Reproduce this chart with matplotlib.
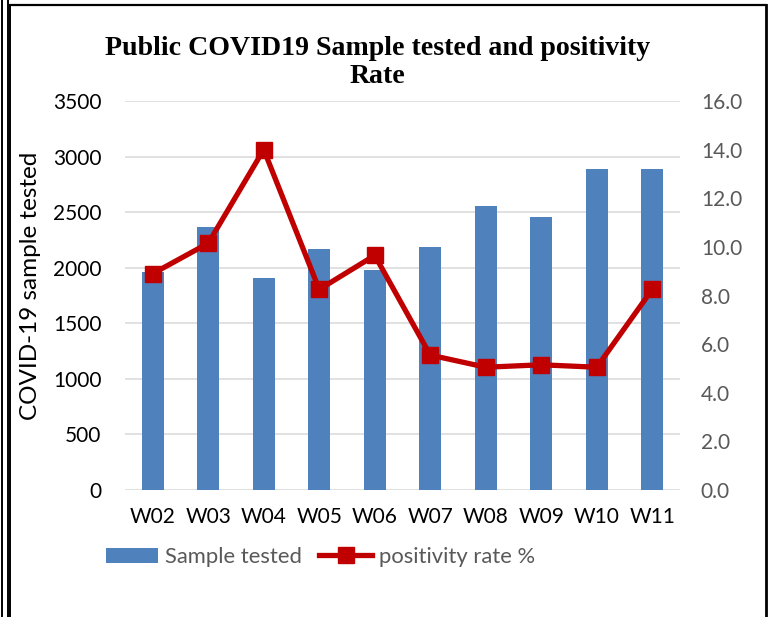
import numpy as np
import matplotlib
matplotlib.use("Agg")
import matplotlib.pyplot as plt
from matplotlib.lines import Line2D

weeks = ["W02", "W03", "W04", "W05", "W06", "W07", "W08", "W09", "W10", "W11"]
samples = [1960, 2365, 1905, 2165, 1980, 2185, 2555, 2455, 2885, 2890]
positivity = [8.9, 10.15, 14.0, 8.25, 9.65, 5.55, 5.05, 5.15, 5.05, 8.25]

W, H = 770, 617
plt.rcParams['font.family'] = ['Lato', 'DejaVu Sans']

fig = plt.figure(figsize=(W / 100, H / 100), dpi=100)
ax = fig.add_axes([125 / W, 1 - 490 / H, 555 / W, 389 / H])
ax2 = ax.twinx()

x = np.arange(len(weeks))
bars = ax.bar(x, samples, width=0.4, color="#4F81BD", zorder=2, label="Sample tested")
line, = ax2.plot(x, positivity, color="#C00000", lw=3.8, marker="s", markersize=12,
                 solid_joinstyle="round", label="positivity rate %")

ax.set_xlim(-0.5, len(weeks) - 0.5)
ax.set_ylim(0, 3500)
ax.set_yticks(np.arange(0, 3501, 500))
ax2.set_ylim(0, 16)
ax2.set_yticks(np.arange(0, 16.1, 2))
ax2.set_yticklabels([f"{v:.1f}" for v in np.arange(0, 16.1, 2)])

ax.set_xticks(x)
ax.set_xticklabels(weeks)
ax.grid(axis="y", color="#D9D9D9", lw=1.1, zorder=0)
ax.set_axisbelow(True)

for a in (ax, ax2):
    for s in a.spines.values():
        s.set_visible(False)
    a.tick_params(length=0, labelsize=15)
ax.tick_params(axis="y", pad=17, colors="black")
ax.tick_params(axis="x", pad=12, colors="black")
ax2.tick_params(axis="y", pad=15, labelcolor="#595959")

ax.set_ylabel("COVID-19 sample tested", fontsize=17.5)
ax.yaxis.set_label_coords(-0.152, 0.524)

fig.text(0.49, 1 - 55 / H, "Public COVID19 Sample tested and positivity",
         family="Liberation Serif", weight="bold", fontsize=20.1, ha="center", va="baseline")
fig.text(0.49, 1 - 83 / H, "Rate",
         family="Liberation Serif", weight="bold", fontsize=20.1, ha="center", va="baseline")

fig.legend(handles=[bars, line], loc="center left", bbox_to_anchor=(86 / W, 1 - 557 / H),
           ncol=2, frameon=False, fontsize=15.8, labelcolor="#595959",
           handlelength=2.4, handletextpad=0.3, columnspacing=0.8)

# border lines of the surrounding frame
def px_line(x0, y0, x1, y1, lw):
    fig.add_artist(Line2D([x0 / W, x1 / W], [1 - y0 / H, 1 - y1 / H],
                          transform=fig.transFigure, color="black", lw=lw))

px_line(1.5, 0, 1.5, H, 1.4)
px_line(7.5, 0, 7.5, H, 1.4)
px_line(9.5, 4.5, 9.5, H, 1.4)
px_line(9.5, 4.5, 766, 4.5, 1.6)
px_line(766, 4.5, 766, H, 2.0)

fig.savefig("out.png", dpi=100)
